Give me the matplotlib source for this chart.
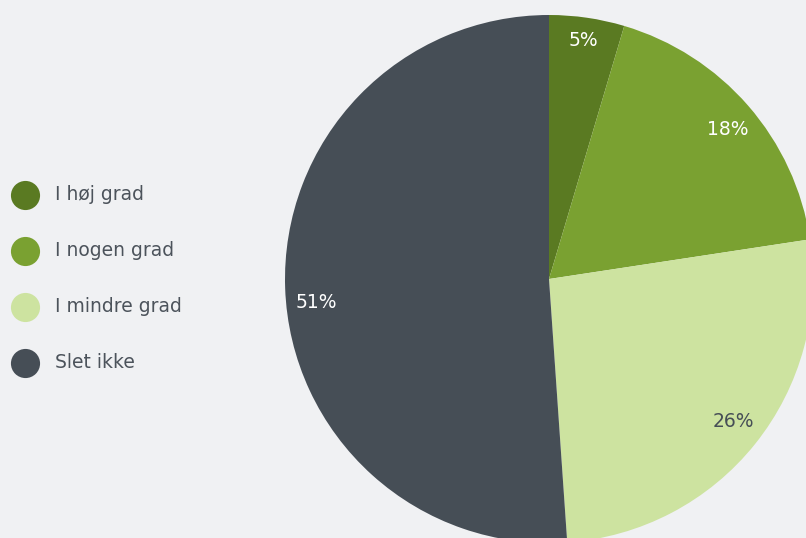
import matplotlib
matplotlib.use("Agg")
import matplotlib.pyplot as plt

kategorier = ["I høj grad", "I nogen grad", "I mindre grad", "Slet ikke"]
andele = [4.6, 18.0, 26.3, 51.1]
farver = ["#5a7a22", "#7aa131", "#cde3a0", "#464e56"]
tekstfarver = ["white", "white", "#464e56", "white"]

bg = "#f0f1f3"
W, H = 806, 538

fig = plt.figure(figsize=(W / 100, H / 100), dpi=100, facecolor=bg)
ax = fig.add_axes([0, 0, 1, 1])
ax.set_facecolor(bg)
ax.axis("off")

wedges, texts, autotexts = ax.pie(
    andele, colors=farver, startangle=90, counterclock=False,
    center=(549, H - 279), radius=264, autopct="%.0f%%", pctdistance=0.89,
    wedgeprops=dict(linewidth=0), textprops=dict(fontsize=13.5),
)
# small nudges to match label placement
nudge = [(1, 6), (2, -5), (1, 4), (2, -15)]
for t, c, (dx, dy) in zip(autotexts, tekstfarver, nudge):
    t.set_color(c)
    x, y = t.get_position()
    t.set_position((x + dx, y + dy))

# legend
for i, (navn, farve) in enumerate(zip(kategorier, farver)):
    y = H - (195 + i * 56)
    ax.scatter([25], [y], s=440, color=farve, linewidths=0, zorder=3)
    ax.text(55, y, navn, fontsize=13.5, color="#4c535b", va="center", ha="left")

ax.set_xlim(0, W)
ax.set_ylim(0, H)
ax.set_aspect("equal")
fig.savefig("out.png", dpi=100, facecolor=bg)
